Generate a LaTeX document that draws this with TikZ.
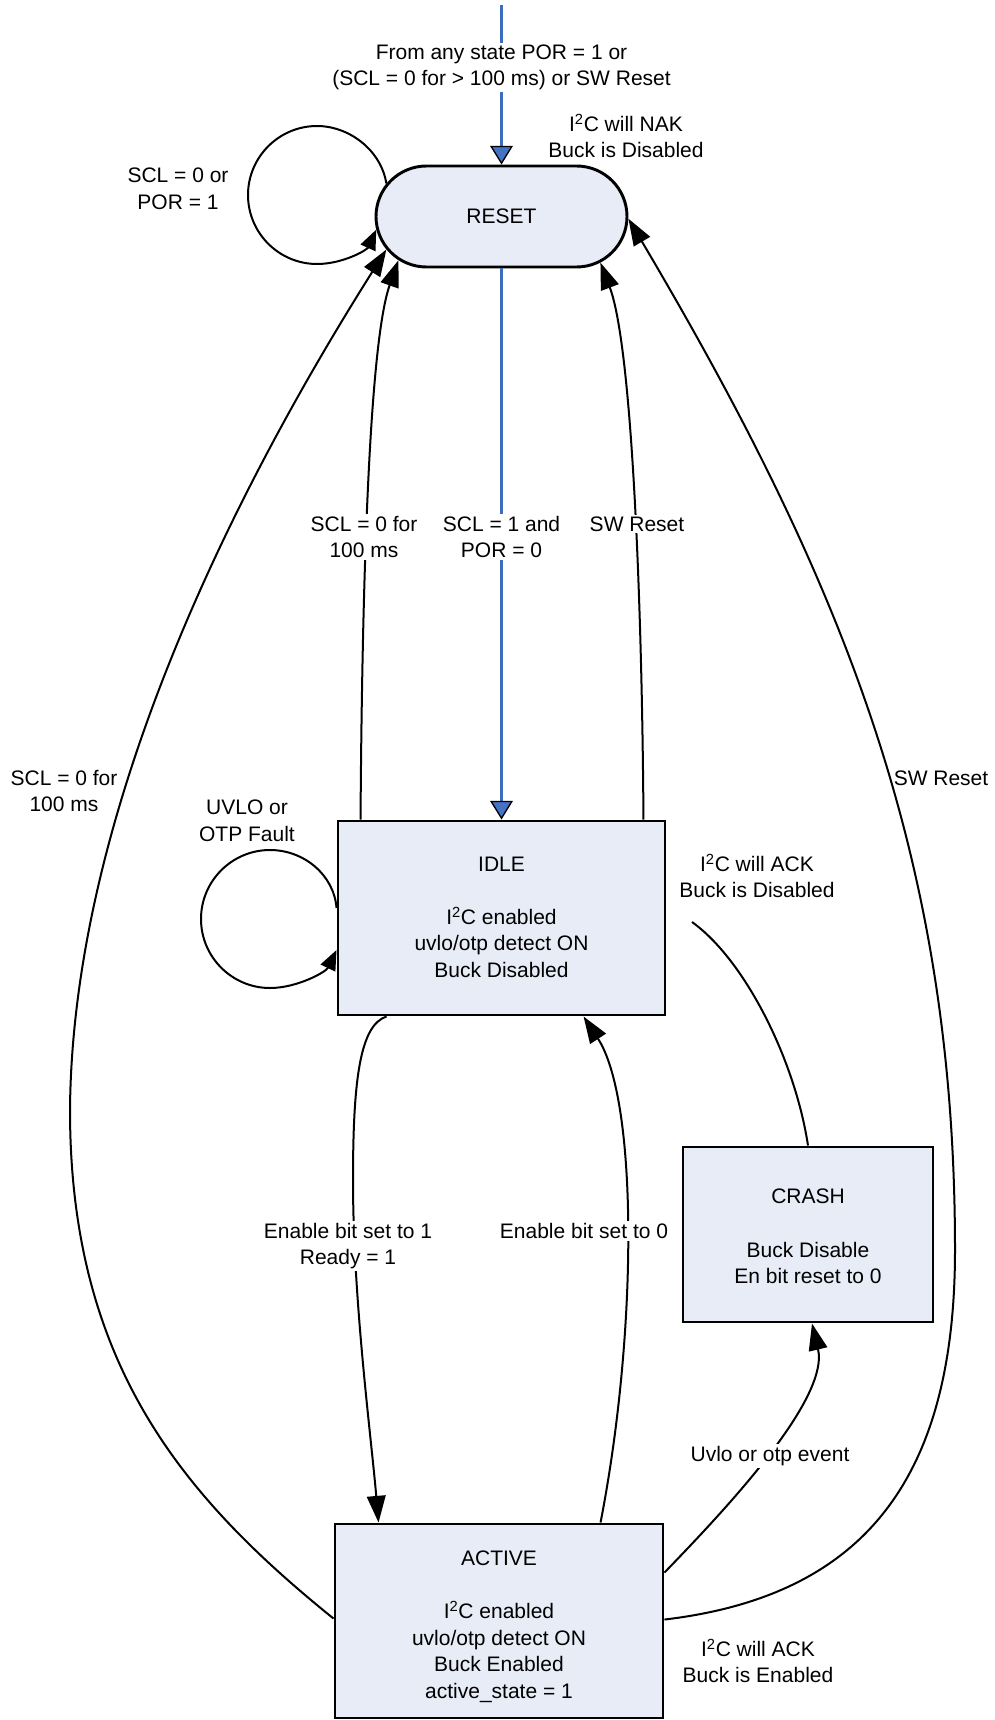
\documentclass[tikz,border=0pt]{standalone}
\usepackage{fontspec}
\setmainfont{Liberation Sans}
\usetikzlibrary{arrows.meta,shapes.misc,calc}
\definecolor{statefill}{RGB}{232,236,247}
\definecolor{blueline}{RGB}{60,110,190}
\definecolor{bluetip}{RGB}{68,114,196}
\begin{document}
\begin{tikzpicture}[x=0.75pt,y=-0.75pt,
  font=\fontsize{15.75}{19.9}\selectfont,
  state/.style={draw=black, line width=2.2pt, fill=statefill, align=center, inner sep=0pt},
  stext/.style={inner sep=0pt, align=center},
  arr/.style={draw=black, line width=1.5pt, -{Triangle[length=20pt,width=14pt]}},
  arrS/.style={draw=black, line width=1.5pt, -{Triangle[length=15pt,width=12pt]}},
  plainline/.style={draw=black, line width=1.5pt},
  barr/.style={draw=blueline, line width=1.6pt, -{Triangle[length=14pt,width=17pt,fill=bluetip,color=black,line width=1pt]}},
  lbl/.style={fill=white, inner sep=1.5pt, align=center},
  txt/.style={inner sep=0pt, align=center}]
\useasboundingbox (0,0) rectangle (995,1720);

% states
\node[state, rounded rectangle, minimum width=188.25pt, minimum height=75.75pt] (reset) at (501.5,216.5) {RESET};
\node[state, minimum width=245.25pt, minimum height=145.5pt] (idle) at (501.5,918) {};
\node[stext] (idletxt) at ($(idle.center)+(0,-1)$)
  {IDLE\\[19.9pt]I\textsuperscript{2}C enabled\\uvlo/otp detect ON\\Buck Disabled};
\node[state, minimum width=246pt, minimum height=145.5pt] (active) at (499,1621) {};
\node[stext] (activetxt) at ($(active.center)+(0,5.5)$)
  {ACTIVE\\[19.9pt]I\textsuperscript{2}C enabled\\uvlo/otp detect ON\\Buck Enabled\\active\_state = 1};
\node[state, minimum width=187.5pt, minimum height=131.25pt] (crash) at (808,1234.5) {};
\node[stext] (crashtxt) at ($(crash.center)+(0,2)$)
  {CRASH\\[19.9pt]Buck Disable\\En bit reset to 0};

% entry
\coordinate (top) at (501.5,5);
\draw[barr] (top) -- (reset.north);
\draw[barr] (reset.south) -- (idle.north);

% RESET self loop
\draw[arrS] (reset.164) .. controls (381,150) and (349,126) .. (317,126)
  .. controls (279,126) and (248,157) .. (248,195)
  .. controls (248,233) and (279,264) .. (317,264)
  .. controls (343,264) and (367,250) .. (reset.186);

% IDLE self loop
\draw[arrS] ($(idle.west)+(0,-10)$) .. controls (334,875) and (304,850) .. (270,850)
  .. controls (232,850) and (201,881) .. (201,919)
  .. controls (201,957) and (232,988) .. (270,988)
  .. controls (297,988) and (326,972) .. ($(idle.west)+(0,32)$);

% IDLE -> RESET
\draw[arr] ($(idle.north west)+(24,0)$) .. controls (362,600) and (368.5,345) .. (reset.203);
\draw[arr] ($(idle.north east)+(-23,0)$) .. controls (642,600) and (632,346) .. (reset.335);

% ACTIVE -> RESET (outer)
\draw[arr] ($(active.north west)+(0,96)$) .. controls (179,1494) and (70,1360) .. (70,1110)
  .. controls (72,845) and (200,545) .. (reset.196);
\draw[arr] ($(active.north east)+(0,97)$) .. controls (863,1596) and (955,1480) .. (955,1250)
  .. controls (955,860) and (845,585) .. (reset.359);

% IDLE <-> ACTIVE
\draw[arr] ($(idle.south west)+(50,0)$) .. controls (360,1025) and (353,1080) .. (353,1180)
  .. controls (353,1300) and (371,1435) .. ($(active.north west)+(45,0)$);
\draw[arr] ($(active.north west)+(267,0)$) .. controls (638,1330) and (638,1100) .. ($(idle.south west)+(247,0)$);

% ACTIVE -> CRASH
\draw[arr] ($(active.north east)+(0,50)$) .. controls (720,1515) and (830,1400) .. ($(crash.south)+(4,0)$);

% annotation line to CRASH
\coordinate (ackd) at (692,922);
\draw[plainline] (ackd) .. controls (745,960) and (795,1060) .. (crash.north);

% labels
\node[lbl] (ltop) at (501.5,67.5) {From any state POR = 1 or\\(SCL = 0 for > 100 ms) or SW Reset};
\node[txt] (lnak) at (626,136) {I\textsuperscript{2}C will NAK\\Buck is Disabled};
\node[txt] (lloop) at (178,189) {SCL = 0 or\\POR = 1};
\node[lbl] (lscl) at (364,537) {SCL = 0 for\\100 ms};
\node[lbl] (lpor) at (501.5,537) {SCL = 1 and\\POR = 0};
\node[lbl] (lsw) at (637,524) {SW Reset};
\node[txt] (lsclout) at (64,791) {SCL = 0 for\\100 ms};
\node[txt] (lswout) at (941,778) {SW Reset};
\node[txt] (luvlo) at (247,821) {UVLO or\\OTP Fault};
\node[txt] (lackd) at (757,876) {I\textsuperscript{2}C will ACK\\Buck is Disabled};
\node[lbl] (len1) at (348,1246) {Enable bit set to 1\\Ready = 1};
\node[lbl] (len0) at (584,1231) {Enable bit set to 0};
\node[lbl] (luvev) at (770,1456) {Uvlo or otp event};
\node[txt] (lacke) at (758,1661) {I\textsuperscript{2}C will ACK\\Buck is Enabled};
\end{tikzpicture}
\end{document}
